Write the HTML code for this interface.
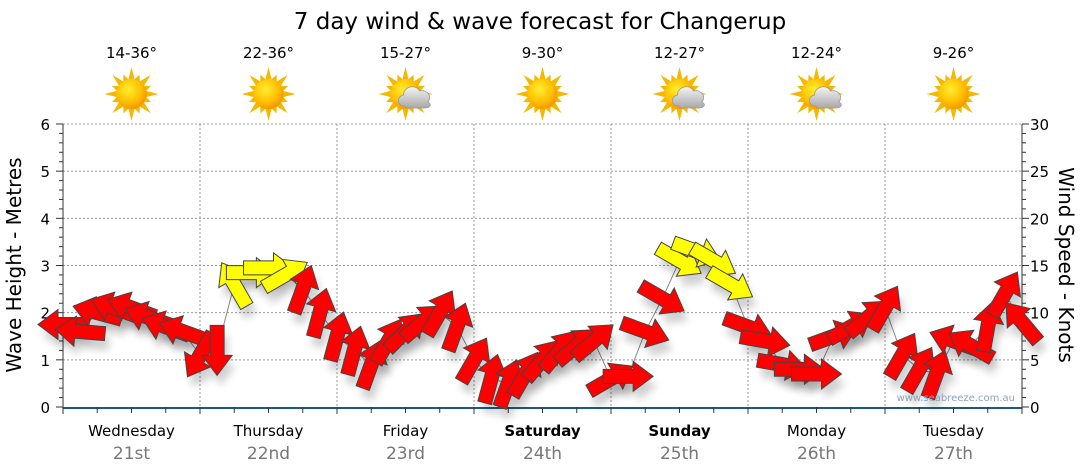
<!DOCTYPE html>
<html><head><meta charset="utf-8">
<style>
html,body{margin:0;padding:0;background:#fff;}
svg{display:block;font-family:"DejaVu Sans","Liberation Sans",sans-serif;}
</style></head>
<body>
<svg id="chart" width="1080" height="475" viewBox="0 0 1080 475">
<defs>
<radialGradient id="sunG" cx="0.4" cy="0.35" r="0.7"><stop offset="0" stop-color="#ffee30"/><stop offset="0.6" stop-color="#ffc000"/><stop offset="1" stop-color="#f09000"/></radialGradient>
<linearGradient id="cloudG" x1="0" y1="0" x2="0" y2="1"><stop offset="0" stop-color="#f4f4f4"/><stop offset="1" stop-color="#a8a8a8"/></linearGradient>
<filter id="sh" x="-50%" y="-50%" width="200%" height="200%"><feGaussianBlur stdDeviation="4"/></filter>
</defs>
<text x="540" y="29" text-anchor="middle" font-size="23" fill="#000">7 day wind &amp; wave forecast for Changerup</text>
<g id="grid"></g>
<g id="axes"></g>
<g id="icons"></g>
<g id="series"></g>
<text x="1015" y="401" text-anchor="end" font-size="10" fill="#8aa4c0">www.seabreeze.com.au</text>
<text transform="translate(21,265) rotate(-90)" text-anchor="middle" font-size="20" fill="#000">Wave Height - Metres</text>
<text transform="translate(1059,265) rotate(90)" text-anchor="middle" font-size="20" fill="#000">Wind Speed - Knots</text>
</svg>
<script>
const days = ["Wednesday","Thursday","Friday","Saturday","Sunday","Monday","Tuesday"];
const dates = ["21st","22nd","23rd","24th","25th","26th","27th"];
const boldDays = [false,false,false,true,true,false,false];
const temps = ["14-36°","22-36°","15-27°","9-30°","12-27°","12-24°","9-26°"];
const cloudy = [false,false,true,false,true,true,false];
const waveTicks = [0,1,2,3,4,5,6];
const windTicks = [0,5,10,15,20,25,30];
const hours = [0,3,6,9,12,15,18,21,24,27,30,33,36,39,42,45,48,51,54,57,60,63,66,69,72,75,78,81,84,87,90,93,96,99,102,105,108,111,114,117,120,123,126,129,132,135,138,141,144,147,150,153,156,159,162,165,168];
const waveHeight = [1.75,1.6,2.0,2.1,2.1,1.9,1.7,1.6,1.1,1.2,2.6,2.85,2.95,2.8,2.5,2.0,1.5,1.2,0.9,1.4,1.6,1.8,2.0,1.7,1.0,0.6,0.5,0.7,1.0,1.2,1.3,1.4,0.6,0.65,1.6,2.3,3.1,3.3,3.1,2.6,1.7,1.4,0.9,0.8,0.7,1.5,1.7,1.9,2.1,1.1,0.8,0.7,1.4,1.3,1.7,2.4,1.8];
const windDir = [180,185,195,200,200,200,200,200,120,90,240,0,0,330,290,285,285,285,290,300,315,320,300,290,300,285,290,300,310,310,320,320,330,0,20,30,30,20,30,30,20,10,10,0,0,340,330,320,300,300,300,290,200,210,280,300,230];
const windSpeed = [10,10,11,11,11,10,10,9,8,8,15,16,16,15,13,12,11,10,9,9,10,10,11,10,8,7,7,8,9,9,10,10,6,7,9,11,16,17,16,15,11,10,9,8,8,10,10,11,12,9,8,8,9,9,10,14,12];

const NS="http://www.w3.org/2000/svg";
const X0=63, DAYW=137, Y0=407, PERM=47.17;
function xs(h){return X0+h*DAYW/24;}
function yw(v){return Y0-v*PERM;}
function yk(v){return Y0-v*PERM*6/30;}
function mk(tag,attrs,parent){const e=document.createElementNS(NS,tag);for(const k in attrs)e.setAttribute(k,attrs[k]);parent.appendChild(e);return e;}
const grid=document.getElementById('grid'), axes=document.getElementById('axes'), icons=document.getElementById('icons'), series=document.getElementById('series');

waveTicks.forEach(v=>{
  if(v>0){const l=mk('line',{x1:X0,x2:1022,y1:yw(v),y2:yw(v),stroke:'#999','stroke-dasharray':'2,2','stroke-width':1},grid);
  
  }
  const t=mk('text',{x:50,y:yw(v)+6,'text-anchor':'end','font-size':15,fill:'#000'},axes);t.textContent=v;
  
  
});
windTicks.forEach(v=>{
  const t=mk('text',{x:1030,y:yk(v)+6,'font-size':15,fill:'#000'},axes);t.textContent=v;
  
  
});
for(let i=0;i<=30;i++){
  const y=Y0-i*PERM/5;const len=(i%5==0)?7:4;
  mk('line',{x1:X0-len,x2:X0,y1:y,y2:y,stroke:'#333'},axes);
  mk('line',{x1:1022,x2:1022+len,y1:Y0-i*PERM*6/30,y2:Y0-i*PERM*6/30,stroke:'#333'},axes);
}
mk('line',{x1:X0,x2:X0,y1:124,y2:Y0,stroke:'#333'},axes);
mk('line',{x1:1022,x2:1022,y1:124,y2:Y0,stroke:'#333'},axes);
mk('line',{x1:X0,x2:1022,y1:Y0+1,y2:Y0+1,stroke:'#1b5a88','stroke-width':2},axes);
for(let h=0;h<=168;h+=6){mk('line',{x1:xs(h),x2:xs(h),y1:Y0,y2:Y0+ (h%24==0?7:6),stroke:'#333'},axes);}
days.forEach((d,i)=>{
  const cx=xs(i*24+12);
  if(i>0){const l=mk('line',{x1:xs(i*24),x2:xs(i*24),y1:124,y2:Y0,stroke:'#999','stroke-dasharray':'2,2'},grid);
  
  }
  const t=mk('text',{x:cx,y:436,'text-anchor':'middle','font-size':15,fill:'#000','font-weight':boldDays[i]?'bold':'normal'},axes);t.textContent=d;
  
  
  const t2=mk('text',{x:cx,y:459,'text-anchor':'middle','font-size':17,fill:'#777'},axes);t2.textContent=dates[i];
  
  
  const t3=mk('text',{x:cx,y:58,'text-anchor':'middle','font-size':15,fill:'#000'},icons);t3.textContent=temps[i];
  
  
  const g=mk('g',{transform:`translate(${cx},94)`},icons);
  
  
  for(let a=0;a<16;a++){const r=(a%2==0)?27:21;const ang=a*Math.PI/8;const w=0.12;
    mk('polygon',{points:`${r*Math.cos(ang)},${r*Math.sin(ang)} ${14*Math.cos(ang-w*2)},${14*Math.sin(ang-w*2)} ${14*Math.cos(ang+w*2)},${14*Math.sin(ang+w*2)}`,fill:'#f5b800'},g);}
  mk('circle',{cx:0,cy:0,r:15,fill:'url(#sunG)'},g);
  if(cloudy[i]){
    mk('path',{d:'M-4,14 C-12,14 -12,4 -5,3 C-5,-6 8,-8 11,-1 C20,-3 24,6 19,10 C24,12 22,16 16,16 L-2,16 Z',fill:'url(#cloudG)',stroke:'#999','stroke-width':0.8,transform:'translate(3,-2)'},g);
  }
});

// connecting line
let d='';hours.forEach((h,i)=>{d+=(i?'L':'M')+xs(h)+','+yw(waveHeight[i]);});
const ln=mk('path',{d:d,fill:'none',stroke:'#888','stroke-width':1},series);


const arrowPts='-25,-7 5,-7 5,-15 25,0 5,15 5,7 -25,7';
hours.forEach((h,i)=>{
  const x=xs(h), y=yw(waveHeight[i]);
  mk('polygon',{points:arrowPts,fill:'#000',opacity:0.18,filter:'url(#sh)',transform:`translate(${x+4},${y+10}) rotate(${windDir[i]})`},series);
});
hours.forEach((h,i)=>{
  const x=xs(h), y=yw(waveHeight[i]);
  const a=mk('polygon',{points:arrowPts,fill:windSpeed[i]>=15?'#ffff00':'#ff0000',stroke:'#444','stroke-width':1,transform:`translate(${x},${y}) rotate(${windDir[i]})`},series);
  
  
});
</script>
</body></html>
